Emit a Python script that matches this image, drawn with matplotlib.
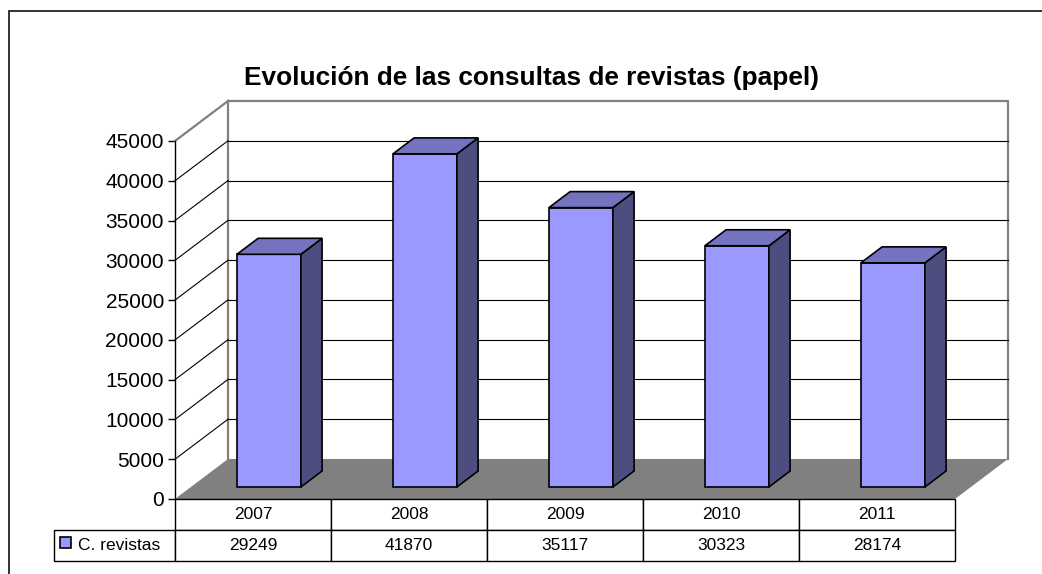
import matplotlib
matplotlib.use("Agg")
import matplotlib.pyplot as plt
from matplotlib.patches import Polygon, Rectangle

plt.rcParams['font.family'] = ['Liberation Sans', 'DejaVu Sans']

# datos
years = ['2007', '2008', '2009', '2010', '2011']
consultas = [29249, 41870, 35117, 30323, 28174]
serie = 'C. revistas'
titulo = 'Evolución de las consultas de revistas (papel)'
y_max = 45000
y_step = 5000

W, H = 1042, 574
fig = plt.figure(figsize=(W / 100, H / 100), dpi=100)
fig.patch.set_facecolor('white')

# plano frontal del grafico en pixeles
left_px, right_px, top_px, bot_px = 175, 955, 141, 499
ax_w, ax_h = right_px - left_px, bot_px - top_px
ax = fig.add_axes([left_px / W, 1 - bot_px / H, ax_w / W, ax_h / H])
n = len(years)
ax.set_xlim(0, n)
ax.set_ylim(0, y_max)

cat_px = ax_w / n
val_px = ax_h / y_max
# profundidad 3D (en unidades de datos)
dx = 53 / cat_px
dy = 40 / val_px

for s in ['top', 'right', 'bottom']:
    ax.spines[s].set_visible(False)
ax.spines['left'].set_linewidth(1.0)
ax.spines['left'].set_zorder(6)
ax.set_xticks([])
ax.set_yticks(range(0, y_max + 1, y_step))
ax.tick_params(axis='y', length=5, width=1, labelsize=15, pad=3)
ax.patch.set_visible(False)

grey = '#808080'

# pared del fondo
ax.add_patch(Polygon([(dx, dy), (n + dx, dy), (n + dx, y_max + dy), (dx, y_max + dy)],
                     closed=True, facecolor='white', edgecolor='none', clip_on=False, zorder=1))
ax.plot([dx, n + dx, n + dx], [y_max + dy, y_max + dy, dy], color=grey, lw=1.6, clip_on=False, zorder=2)
ax.plot([dx, dx], [dy, y_max + dy], color=grey, lw=1.6, clip_on=False, zorder=2)
ax.plot([0, dx], [y_max, y_max + dy], color=grey, lw=1.6, clip_on=False, zorder=2)

# lineas de division
for v in range(y_step, y_max, y_step):
    ax.plot([dx, n + dx], [v + dy, v + dy], color='black', lw=0.8, clip_on=False, zorder=2)
    ax.plot([0, dx], [v, v + dy], color='black', lw=0.8, clip_on=False, zorder=2)

# suelo
ax.add_patch(Polygon([(0, 0), (n, 0), (n + dx, dy), (dx, dy)], closed=True,
                     facecolor=grey, edgecolor='none', clip_on=False, zorder=3))

# barras
front_c, top_c, side_c = '#9999FF', '#7373BF', '#4D4D80'
bw = 0.41
off = 0.3
depth = 0.4
for i, v in enumerate(consultas):
    x0 = i + 0.5 - bw / 2 + off * dx
    y0 = off * dy
    x1 = x0 + bw
    y1 = y0 + v
    ddx, ddy = depth * dx, depth * dy
    kw = dict(closed=True, edgecolor='black', lw=1.2, clip_on=False, zorder=4, joinstyle='miter')
    ax.add_patch(Polygon([(x0, y0), (x1, y0), (x1, y1), (x0, y1)], facecolor=front_c, **kw))
    ax.add_patch(Polygon([(x1, y0), (x1 + ddx, y0 + ddy), (x1 + ddx, y1 + ddy), (x1, y1)], facecolor=side_c, **kw))
    ax.add_patch(Polygon([(x0, y1), (x1, y1), (x1 + ddx, y1 + ddy), (x0 + ddx, y1 + ddy)], facecolor=top_c, **kw))

# tabla de datos (la columna de etiquetas queda fuera del bbox, a la izquierda)
lab_px = 121
row_top, row_bot = 499, 561
row_h = (row_bot - row_top) / 2 / ax_h
tb = ax.table(cellText=[[str(v) for v in consultas]], colLabels=years, cellLoc='center',
              bbox=[0, -(row_bot - bot_px) / ax_h, 1, (row_bot - row_top) / ax_h])
lab = tb.add_cell(1, -1, width=lab_px / ax_w, height=row_h, text=serie, loc='left')
lab.PAD = 0.2
tb.auto_set_font_size(False)
tb.set_fontsize(12.5)
for (r, c), cell in tb.get_celld().items():
    cell.set_linewidth(1.0)
    cell.set_edgecolor('black')
    if c >= 0:
        cell.set_width(cat_px / ax_w)
    cell.set_height(row_h)
tb.set_zorder(5)

# marca de la leyenda
ax.add_patch(Rectangle(((60 - left_px) / ax_w, -(548 - bot_px) / ax_h),
                       11 / ax_w, 11 / ax_h,
                       transform=ax.transAxes, facecolor=front_c, edgecolor='black', lw=1.2,
                       clip_on=False, zorder=6))

# titulo
fig.text(531 / W, 1 - 78 / H, titulo, ha='center', va='center', fontsize=18.9, fontweight='bold')

# marco
fig.add_artist(Rectangle((9 / W, -0.1), 1.2, 1.1 - 11 / H, transform=fig.transFigure,
                         fill=False, edgecolor='#222222', lw=1.3))

fig.savefig('out.png', dpi=100)
